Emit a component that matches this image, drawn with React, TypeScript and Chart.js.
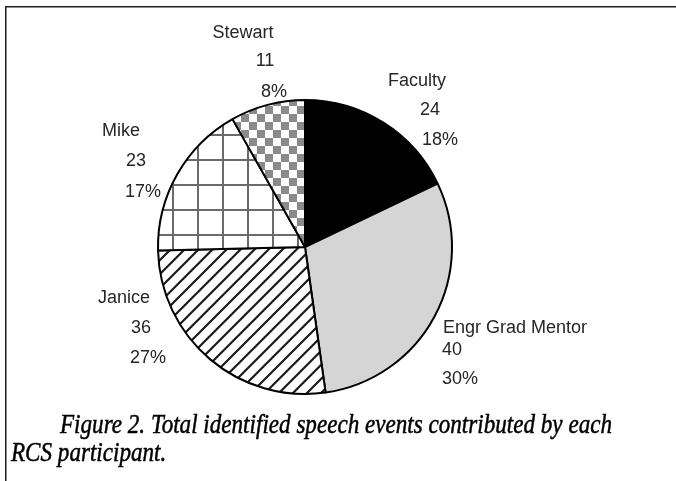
import React, { useEffect, useRef } from "react";
import { Chart, registerables } from "chart.js";

Chart.register(...registerables);

// ---- data ----
const categories = ["Faculty", "Engr Grad Mentor", "Janice", "Mike", "Stewart"];
const speechEvents = [24, 40, 36, 23, 11];
const captionLines = [
  "Figure 2. Total identified speech events contributed by each",
  "RCS participant.",
];

// ---- layout / style (not data) ----
const W = 676;
const H = 481;
const PIE_RADIUS = 147;
// label line placement relative to the pie centre: [dx, dy] per line
const labelLayout: { align: CanvasTextAlign; lines: [number, number][] }[] = [
  { align: "center", lines: [[112, -168], [125, -139], [135, -109]] }, // Faculty
  { align: "left", lines: [[138, 79], [137, 101], [137, 130]] }, // Engr Grad Mentor
  { align: "center", lines: [[-181, 49], [-164, 79], [-157, 109]] }, // Janice
  { align: "center", lines: [[-184, -118], [-169, -88], [-162, -57]] }, // Mike
  { align: "center", lines: [[-62, -216], [-40, -188], [-31, -157]] }, // Stewart
];

function makeTile(size: number, draw: (c: CanvasRenderingContext2D) => void) {
  const t = document.createElement("canvas");
  t.width = size;
  t.height = size;
  const c = t.getContext("2d")!;
  c.fillStyle = "#ffffff";
  c.fillRect(0, 0, size, size);
  draw(c);
  return t;
}

function buildPatterns(ctx: CanvasRenderingContext2D) {
  // diagonal "/" hatch
  const diagTile = makeTile(14, (c) => {
    c.strokeStyle = "#1a1a1a";
    c.lineWidth = 2.2;
    c.beginPath();
    c.moveTo(-7, 7);
    c.lineTo(7, -7);
    c.moveTo(0, 14);
    c.lineTo(14, 0);
    c.moveTo(7, 21);
    c.lineTo(21, 7);
    c.stroke();
  });
  const diag = ctx.createPattern(diagTile, "repeat")!;

  // grid
  const gridTile = makeTile(25, (c) => {
    c.fillStyle = "#6a6a6a";
    c.fillRect(0, 0, 2, 25);
    c.fillRect(0, 0, 25, 2);
  });
  const grid = ctx.createPattern(gridTile, "repeat")!;
  try {
    grid.setTransform(new DOMMatrix().translate(22, 9));
  } catch (e) {}

  // checkerboard
  const checkTile = makeTile(16, (c) => {
    c.fillStyle = "#8a8a8a";
    c.fillRect(0, 0, 8, 8);
    c.fillRect(8, 8, 8, 8);
  });
  const check = ctx.createPattern(checkTile, "repeat")!;
  try {
    check.setTransform(new DOMMatrix().translate(1, 2));
  } catch (e) {}

  return ["#000000", "#d5d5d5", diag, grid, check];
}

const decorPlugin = {
  id: "decor",
  afterDraw(chart: any) {
    const ctx: CanvasRenderingContext2D = chart.ctx;
    const meta = chart.getDatasetMeta(0);
    const data: number[] = chart.data.datasets[0].data;
    const total = data.reduce((a, b) => a + b, 0);

    ctx.save();
    // frame lines (top and left)
    ctx.fillStyle = "#1c1c1c";
    ctx.fillRect(5, 6, W - 5, 1.5);
    ctx.fillRect(5, 6, 1.5, H - 6);

    // slice labels
    ctx.font = "18px 'Liberation Sans', Arial, sans-serif";
    ctx.fillStyle = "#262626";
    ctx.textBaseline = "alphabetic";
    meta.data.forEach((arc: any, i: number) => {
      const cx = arc.x;
      const cy = arc.y;
      const pct = Math.round((data[i] / total) * 100) + "%";
      const texts = [chart.data.labels[i], String(data[i]), pct];
      const lay = labelLayout[i];
      ctx.textAlign = lay.align;
      texts.forEach((t, j) => {
        const [dx, dy] = lay.lines[j];
        ctx.fillText(t, cx + dx, cy + dy + 6.5);
      });
    });

    // caption
    ctx.fillStyle = "#000";
    ctx.strokeStyle = "#000";
    ctx.lineWidth = 0.5;
    ctx.textAlign = "left";
    ctx.font = "italic 27px 'Liberation Serif', 'Times New Roman', serif";
    const w1 = ctx.measureText(captionLines[0]).width;
    const sx = 552 / w1;
    const placements: [number, number][] = [
      [60, 433],
      [11, 461],
    ];
    captionLines.forEach((line, k) => {
      ctx.save();
      ctx.translate(placements[k][0], placements[k][1]);
      ctx.scale(sx, 1);
      ctx.fillText(line, 0, 0);
      ctx.strokeText(line, 0, 0);
      ctx.restore();
    });
    ctx.restore();
  },
};

export default function App() {
  const ref = useRef<HTMLCanvasElement | null>(null);

  useEffect(() => {
    const canvas = ref.current!;
    const ctx = canvas.getContext("2d")!;
    const fills = buildPatterns(ctx);
    const chart = new Chart(canvas, {
      type: "pie",
      data: {
        labels: categories,
        datasets: [
          {
            data: speechEvents,
            backgroundColor: fills as any,
            borderColor: "#000000",
            borderWidth: 2,
            radius: PIE_RADIUS,
          } as any,
        ],
      },
      options: {
        responsive: false,
        animation: false,
        devicePixelRatio: 1,
        layout: { padding: { left: 0, right: 66, top: 13, bottom: 0 } },
        plugins: {
          legend: { display: false },
          tooltip: { enabled: false },
        },
      },
      plugins: [decorPlugin],
    });
    return () => chart.destroy();
  }, []);

  return (
    <div
      style={{
        position: "fixed",
        left: 0,
        top: 0,
        width: W,
        height: H,
        background: "#ffffff",
        overflow: "hidden",
      }}
    >
      <canvas ref={ref} width={W} height={H} style={{ display: "block" }} />
    </div>
  );
}
